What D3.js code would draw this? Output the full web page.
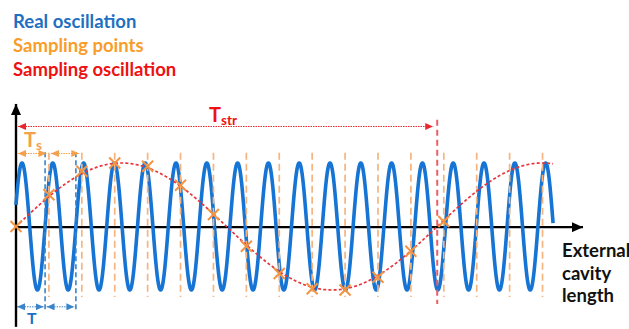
<!DOCTYPE html>
<html>
<head>
<meta charset="utf-8">
<script src="https://cdn.jsdelivr.net/npm/d3@7/dist/d3.min.js"></script>
<style>
  html, body { margin: 0; padding: 0; background: #fff; }
  svg { display: block; }
  text { font-family: Lato, "Open Sans", sans-serif; font-weight: 700; }
</style>
</head>
<body>
<div id="chart"></div>
<script>
// Legend entries
const legendLabels = ["Real oscillation", "Sampling points", "Sampling oscillation"];
const legendColors = ["#1f70c1", "#f99d2a", "#ee1111"];

// Real oscillation (x in units of the sampling interval Ts)
const realPeriod = 0.936;
const realPhase = -0.052;
const realEnd = 16.32;

// Sampling (stroboscopic) oscillation
const strobePeriod = 12.8;
const strobeEnd = 16.32;

// Sampling instants and the sampled values
const sampleAt = [0, 1, 2, 3, 4, 5, 6, 7, 8, 9, 10, 11, 12, 13, 14, 15, 16];
const sampleValue = [0, 0.50, 0.87, 1.0, 0.95, 0.65, 0.19, -0.31, -0.74, -0.98, -1.0, -0.80, -0.39, 0.08];

// Annotated intervals
const tsMarks = [[0, 1], [1, 2]];
const tMarks = [[0, 1], [1, 2]];   // in periods of the real oscillation
const strobeMark = 12.8;

const axisXMax = 17.23;
const axisLabel = ["External", "cavity", "length"];

const W = 629, H = 329;
const svg = d3.select("#chart").append("svg").attr("width", W).attr("height", H);

const x = d3.scaleLinear().domain([0, axisXMax]).range([16, 583]);
const y = d3.scaleLinear().domain([-1, 1]).range([290, 163]);

// arrow markers
const defs = svg.append("defs");
function marker(id, color, w, h, orient) {
  defs.append("marker")
    .attr("id", id).attr("viewBox", `0 0 ${w} ${h}`)
    .attr("refX", w).attr("refY", h / 2)
    .attr("markerWidth", w).attr("markerHeight", h)
    .attr("markerUnits", "userSpaceOnUse")
    .attr("orient", orient)
    .append("path").attr("d", `M0,0L${w},${h / 2}L0,${h}Z`).attr("fill", color);
}
marker("axisArrow", "#000", 11, 10, "auto");
marker("tsArrow", "#f5a04a", 8, 7, "auto-start-reverse");
marker("tArrow", "#3a84c8", 8, 7, "auto-start-reverse");
marker("strArrow", "#e8282e", 8, 7, "auto-start-reverse");

// legend
svg.append("g").selectAll("text").data(legendLabels).join("text")
  .attr("x", 13).attr("y", (d, i) => 28 + i * 23.8)
  .attr("font-size", 18.5)
  .attr("fill", (d, i) => legendColors[i])
  .text(d => d);

// axes
svg.append("line")
  .attr("x1", x(0)).attr("x2", x(0))
  .attr("y1", y(-1.58)).attr("y2", y(1.93))
  .attr("stroke", "#000").attr("stroke-width", 2.4)
  .attr("marker-end", "url(#axisArrow)");
svg.append("line")
  .attr("x1", x(0)).attr("x2", x(axisXMax))
  .attr("y1", y(-0.01)).attr("y2", y(-0.01))
  .attr("stroke", "#000").attr("stroke-width", 2.4)
  .attr("marker-end", "url(#axisArrow)");

// x-axis caption
svg.append("g").selectAll("text").data(axisLabel).join("text")
  .attr("x", 562).attr("y", (d, i) => 257 + i * 22.5)
  .attr("font-size", 18.5).attr("fill", "#111")
  .text(d => d);

// real oscillation
const realPts = d3.range(0, realEnd + 1e-9, 0.004);
const realLine = d3.line()
  .x(d => x(d))
  .y(d => y(Math.sin(2 * Math.PI * (d - realPhase) / realPeriod)));
svg.append("path").datum(realPts)
  .attr("d", realLine).attr("fill", "none")
  .attr("stroke", "#1574d4").attr("stroke-width", 3.6);

// sampling instants (dashed verticals)
svg.append("g").selectAll("line").data(sampleAt.slice(1)).join("line")
  .attr("x1", d => x(d)).attr("x2", d => x(d))
  .attr("y1", y(1.16)).attr("y2", y(-1.11))
  .attr("stroke", "#f5b480").attr("stroke-width", 1.7)
  .attr("stroke-dasharray", "7,4");

// real-period markers
const tLines = [realPhase + realPeriod, realPhase + 2 * realPeriod];
svg.append("g").selectAll("line").data(tLines).join("line")
  .attr("x1", d => x(d)).attr("x2", d => x(d))
  .attr("y1", y(1.17)).attr("y2", y(-1.35))
  .attr("stroke", "#3a84c8").attr("stroke-width", 1.6)
  .attr("stroke-dasharray", "5,3");

// sampling oscillation
const strobePts = d3.range(0, strobeEnd + 1e-9, 0.02);
const strobeLine = d3.line()
  .x(d => x(d))
  .y(d => y(Math.sin(2 * Math.PI * d / strobePeriod)));
svg.append("path").datum(strobePts)
  .attr("d", strobeLine).attr("fill", "none")
  .attr("stroke", "#e8343a").attr("stroke-width", 1.7)
  .attr("stroke-dasharray", "3,2.2");

// stroboscopic period marker
svg.append("line")
  .attr("x1", x(strobeMark)).attr("x2", x(strobeMark))
  .attr("y1", y(1.68)).attr("y2", y(-1.22))
  .attr("stroke", "#e86068").attr("stroke-width", 2)
  .attr("stroke-dasharray", "6,4");

// sample crosses
const cross = svg.append("g");
sampleValue.forEach((v, i) => {
  const cx = x(sampleAt[i]), cy = y(v), r = 5.5;
  cross.append("path")
    .attr("d", `M${cx - r},${cy - r}L${cx + r},${cy + r}M${cx - r},${cy + r}L${cx + r},${cy - r}`)
    .attr("stroke", "#f39443").attr("stroke-width", 2).attr("fill", "none");
});

// interval arrows
function span(x1, x2, yy, color, mk, dash) {
  svg.append("line")
    .attr("x1", x1).attr("x2", x2).attr("y1", yy).attr("y2", yy)
    .attr("stroke", color).attr("stroke-width", 1)
    .attr("stroke-dasharray", dash)
    .attr("marker-start", `url(#${mk})`).attr("marker-end", `url(#${mk})`);
}
tsMarks.forEach(([a, b]) => span(x(a) + 2, x(b) - 2.5, y(1.15), "#f5a04a", "tsArrow", "1.5,1"));
tMarks.forEach(([a, b]) => {
  const xa = a === 0 ? x(0) + 1 : x(realPhase + a * realPeriod) + 1.5;
  span(xa, x(realPhase + b * realPeriod) - 1.5, y(-1.265), "#3a84c8", "tArrow", "1.5,1");
});
span(x(0) + 2, x(strobeMark) - 4, y(1.575), "#e8282e", "strArrow", "1.5,1");

// interval labels
function subLabel(tx, ty, main, sub, color, size) {
  const t = svg.append("text").attr("x", tx).attr("y", ty).attr("fill", color);
  t.append("tspan").attr("font-size", size).text(main);
  if (sub) t.append("tspan").attr("font-size", 13.5).attr("dy", 3).text(sub);
}
subLabel(24, 147, "T", "s", "#f5a04a", 20);
subLabel(209, 121.5, "T", "str", "#ee1111", 20);
subLabel(27, 324, "T", null, "#1f70c1", 16);
</script>
</body>
</html>
